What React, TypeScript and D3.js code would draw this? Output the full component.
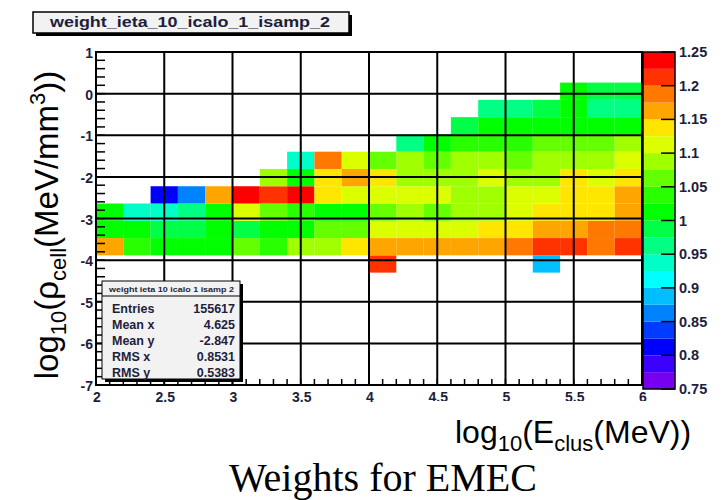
import React from 'react';
import * as d3 from 'd3';

const W = 722;
const H = 500;

// Histogram binning: log10(E_clus) columns, log10(rho_cell) rows
const eBinLow = 2;
const eBinWidth = 0.2;
const eBinCount = 20;
const rhoBinLow = -4.3;
const rhoBinWidth = 0.415;

const _ = null;
// Weight per cell, one array per log10(rho) row, lowest row first
const row0 = [_, _, _, _, _, _, _, _, _, _, 1.21, _, _, _, _, _, 0.89, _, _, _];
const row1 = [1.16, 1.04, 1.01, 1.01, 1.01, 1.06, 1.04, 1.09, 1.09, 1.14, 1.16, 1.16, 1.16, 1.16, 1.16, 1.19, 1.21, 1.21, 1.19, 1.21];
const row2 = [1.01, 1.01, 0.99, 0.99, 1.01, 0.99, 1.01, 1.01, 1.06, 1.06, 1.11, 1.11, 1.11, 1.11, 1.14, 1.14, 1.16, 1.16, 1.19, 1.19];
const row3 = [1.01, 0.94, 0.94, 0.96, 1.01, 1.11, 1.06, 1.04, 1.01, 1.01, 1.06, 1.09, 1.06, 1.09, 1.09, 1.11, 1.14, 1.14, 1.14, 1.16];
const row4 = [_, _, 0.81, 0.86, 1.16, 1.24, 1.21, 1.24, 1.14, 1.11, 1.11, 1.11, 1.11, 1.09, 1.09, 1.11, 1.11, 1.14, 1.14, 1.16];
const row5 = [_, _, _, _, _, _, 1.09, 1.01, 1.14, 1.16, 1.14, 1.09, 1.09, 1.09, 1.11, 1.09, 1.09, 1.14, 1.11, 1.14];
const row6 = [_, _, _, _, _, _, _, 0.94, 1.19, 1.11, 1.06, 1.09, 1.06, 1.09, 1.09, 1.06, 1.09, 1.09, 1.09, 1.11];
const row7 = [_, _, _, _, _, _, _, _, _, _, _, 0.96, 1.01, 1.04, 1.04, 1.04, 1.06, 1.06, 1.06, 1.09];
const row8 = [_, _, _, _, _, _, _, _, _, _, _, _, _, 0.99, 1.01, 1.01, 1.01, 1.01, 1.01, 1.01];
const row9 = [_, _, _, _, _, _, _, _, _, _, _, _, _, _, 0.96, 0.96, 0.99, 1.01, 0.96, 0.96];
const row10 = [_, _, _, _, _, _, _, _, _, _, _, _, _, _, _, _, _, 1.01, 0.99, 0.99];
const weightRows = [row0, row1, row2, row3, row4, row5, row6, row7, row8, row9, row10];

const xMajor = [2, 2.5, 3, 3.5, 4, 4.5, 5, 5.5, 6];
const xLabels = ['2', '2.5', '3', '3.5', '4', '4.5', '5', '5.5', '6'];
const yMajor = [1, 0, -1, -2, -3, -4, -5, -6, -7];
const yLabels = ['1', '0', '-1', '-2', '-3', '-4', '-5', '-6', '-7'];
const zTicks = [0.75, 0.8, 0.85, 0.9, 0.95, 1, 1.05, 1.1, 1.15, 1.2, 1.25];
const zLabels = ['0.75', '0.8', '0.85', '0.9', '0.95', '1', '1.05', '1.1', '1.15', '1.2', '1.25'];
const zMin = 0.75;
const zMax = 1.25;

// Rainbow palette, 20 contour levels from low to high weight
const paletteColors = [
  '#7800f0', '#3c00ff', '#0000ff', '#003cff', '#0082ff', '#00beff', '#00ffff', '#00ffc8',
  '#00ff82', '#00ff46', '#00ff00', '#28ff00', '#64ff00', '#a0ff00', '#dcff00', '#ffe600',
  '#ffa500', '#ff7800', '#ff3200', '#ff0000',
];

const histName = 'weight_ieta_10_icalo_1_isamp_2';
const statsLabels = ['Entries', 'Mean x', 'Mean y', 'RMS x', 'RMS y'];
const statsValues = ['155617', '4.625', '-2.847', '0.8531', '0.5383'];

const SANS = '"Liberation Sans", Arial, Helvetica, sans-serif';
const INK = '#1e1e3c';

export default function App() {
  const frame = { left: 96, right: 642, top: 52, bottom: 385 };
  const x = d3.scaleLinear().domain([2, 6]).range([frame.left, frame.right]);
  const y = d3.scaleLinear().domain([-7, 1]).range([frame.bottom, frame.top]);
  const bar = { left: 643, right: 675, top: 52, bottom: 389 };
  const z = d3.scaleLinear().domain([zMin, zMax]).range([bar.bottom, bar.top]);
  const color = d3.scaleQuantize<string>().domain([zMin, zMax]).range(paletteColors);

  const cells: { x0: number; x1: number; y0: number; y1: number; v: number }[] = [];
  weightRows.forEach((row, r) => {
    row.forEach((v, c) => {
      if (v == null) return;
      const e0 = eBinLow + c * eBinWidth;
      const p0 = rhoBinLow + r * rhoBinWidth;
      cells.push({ x0: e0, x1: e0 + eBinWidth, y0: p0, y1: p0 + rhoBinWidth, v });
    });
  });

  const xMinor = d3.range(0, eBinCount * 2 + 1).map((i) => 2 + i * 0.1);
  const yMinor = d3.range(0, 41).map((i) => -7 + i * 0.2);
  const bands = paletteColors.map((col, i) => {
    const lo = zMin + (i * (zMax - zMin)) / paletteColors.length;
    const hi = zMin + ((i + 1) * (zMax - zMin)) / paletteColors.length;
    return { col, lo, hi };
  });

  const statsBox = { x: 102, y: 281, w: 138, h: 98 };

  return (
    <svg width={W} height={H} style={{ position: 'absolute', left: 0, top: 0, background: '#fff' }}>
      <rect x={0} y={0} width={W} height={H} fill="#fff" />

      {/* histogram title box */}
      <rect x={36} y={15} width={316} height={21} fill="#000" />
      <rect x={33} y={12} width={316} height={21} fill="#f2f2f2" stroke="#000" strokeWidth={1.5} />
      <text x={50} y={27} fontFamily={SANS} fontWeight="bold" fontSize={15} fill={INK}
        textLength={280} lengthAdjust="spacingAndGlyphs">{histName}</text>

      {/* cells */}
      {cells.map((d, i) => (
        <rect key={i} x={x(d.x0)} y={y(d.y1)} width={x(d.x1) - x(d.x0)} height={y(d.y0) - y(d.y1)}
          fill={color(d.v)} />
      ))}

      {/* grid */}
      {xMajor.slice(1, -1).map((v) => (
        <line key={'gx' + v} x1={x(v)} x2={x(v)} y1={frame.top} y2={frame.bottom} stroke="#000" strokeWidth={2} />
      ))}
      {yMajor.slice(1, -1).map((v) => (
        <line key={'gy' + v} x1={frame.left} x2={frame.right} y1={y(v)} y2={y(v)} stroke="#000" strokeWidth={2} />
      ))}

      {/* axis ticks */}
      {xMinor.map((v, i) => (
        <line key={'tx' + i} x1={x(v)} x2={x(v)} y1={frame.bottom} y2={frame.bottom - 6} stroke="#000" strokeWidth={1.5} />
      ))}
      {yMinor.map((v, i) => (
        <line key={'ty' + i} x1={frame.left} x2={frame.left + 9} y1={y(v)} y2={y(v)} stroke="#000" strokeWidth={1.5} />
      ))}

      <rect x={frame.left} y={frame.top} width={frame.right - frame.left} height={frame.bottom - frame.top}
        fill="none" stroke="#000" strokeWidth={2} />

      {/* tick labels */}
      {yMajor.map((v, i) => (
        <text key={'ly' + v} x={93} y={y(v) + 6} textAnchor="end" fontFamily={SANS} fontWeight="bold"
          fontSize={14} fill={INK}>{yLabels[i]}</text>
      ))}
      {xMajor.map((v, i) => (
        <text key={'lx' + v} x={x(v) + 1} y={402} textAnchor="middle" fontFamily={SANS} fontWeight="bold"
          fontSize={14} fill={INK}>{xLabels[i]}</text>
      ))}

      {/* colour scale */}
      {bands.map((b, i) => (
        <rect key={'band' + i} x={bar.left} y={z(b.hi)} width={bar.right - bar.left} height={z(b.lo) - z(b.hi)} fill={b.col} />
      ))}
      <rect x={bar.left} y={bar.top} width={bar.right - bar.left} height={bar.bottom - bar.top} fill="none" stroke="#000" strokeWidth={1.5} />
      {zTicks.map((v, i) => (
        <g key={'z' + v}>
          <line x1={bar.right - 14} x2={bar.right} y1={z(v)} y2={z(v)} stroke="#000" strokeWidth={1.5} />
          <text x={679} y={z(v) + 5} fontFamily={SANS} fontWeight="bold" fontSize={14.5} fill={INK}>{zLabels[i]}</text>
        </g>
      ))}

      {/* statistics box */}
      <rect x={statsBox.x + 3} y={statsBox.y + 3} width={statsBox.w} height={statsBox.h} fill="#000" />
      <rect x={statsBox.x} y={statsBox.y} width={statsBox.w} height={statsBox.h} fill="#f2f2f2" stroke="#000" strokeWidth={1} />
      <text x={statsBox.x + 7} y={statsBox.y + 11} fontFamily={SANS} fontWeight="bold" fontSize={7} fill={INK}
        textLength={statsBox.w - 13} lengthAdjust="spacingAndGlyphs">{histName.replace(/_/g, ' ')}</text>
      <line x1={statsBox.x} x2={statsBox.x + statsBox.w} y1={statsBox.y + 15} y2={statsBox.y + 15} stroke="#000" strokeWidth={1} />
      {statsLabels.map((lab, i) => (
        <g key={lab}>
          <text x={statsBox.x + 10} y={312.5 + i * 16.1} fontFamily={SANS} fontWeight="bold" fontSize={12.5} fill={INK}>{lab}</text>
          <text x={statsBox.x + statsBox.w - 5} y={312.5 + i * 16.1} textAnchor="end" fontFamily={SANS} fontWeight="bold"
            fontSize={12.5} fill={INK}>{statsValues[i]}</text>
        </g>
      ))}

      {/* x-axis title */}
      <rect x={432} y={401} width={290} height={58} fill="#fff" />
      <text x={455} y={443} fontFamily={SANS} fontSize={32} fill="#000">
        <tspan>log</tspan>
        <tspan fontSize={22} dy={8}>10</tspan>
        <tspan dy={-8}>(E</tspan>
        <tspan fontSize={22} dy={8}>clus</tspan>
        <tspan dy={-8}>(MeV))</tspan>
      </text>

      {/* y-axis title */}
      <text transform="translate(58,225) rotate(-90)" textAnchor="middle" fontFamily={SANS} fontSize={33} fill="#000">
        <tspan>log</tspan>
        <tspan fontSize={22} dy={8}>10</tspan>
        <tspan dy={-8}>(ρ</tspan>
        <tspan fontSize={22} dy={8}>cell</tspan>
        <tspan dy={-8}>(MeV/mm</tspan>
        <tspan fontSize={22} dy={-13}>3</tspan>
        <tspan dy={13}>))</tspan>
      </text>

      {/* caption */}
      <text x={383} y={491} textAnchor="middle" fontFamily='"Liberation Serif", "Times New Roman", serif' fontSize={40} fill="#000">
        Weights for EMEC
      </text>
    </svg>
  );
}
